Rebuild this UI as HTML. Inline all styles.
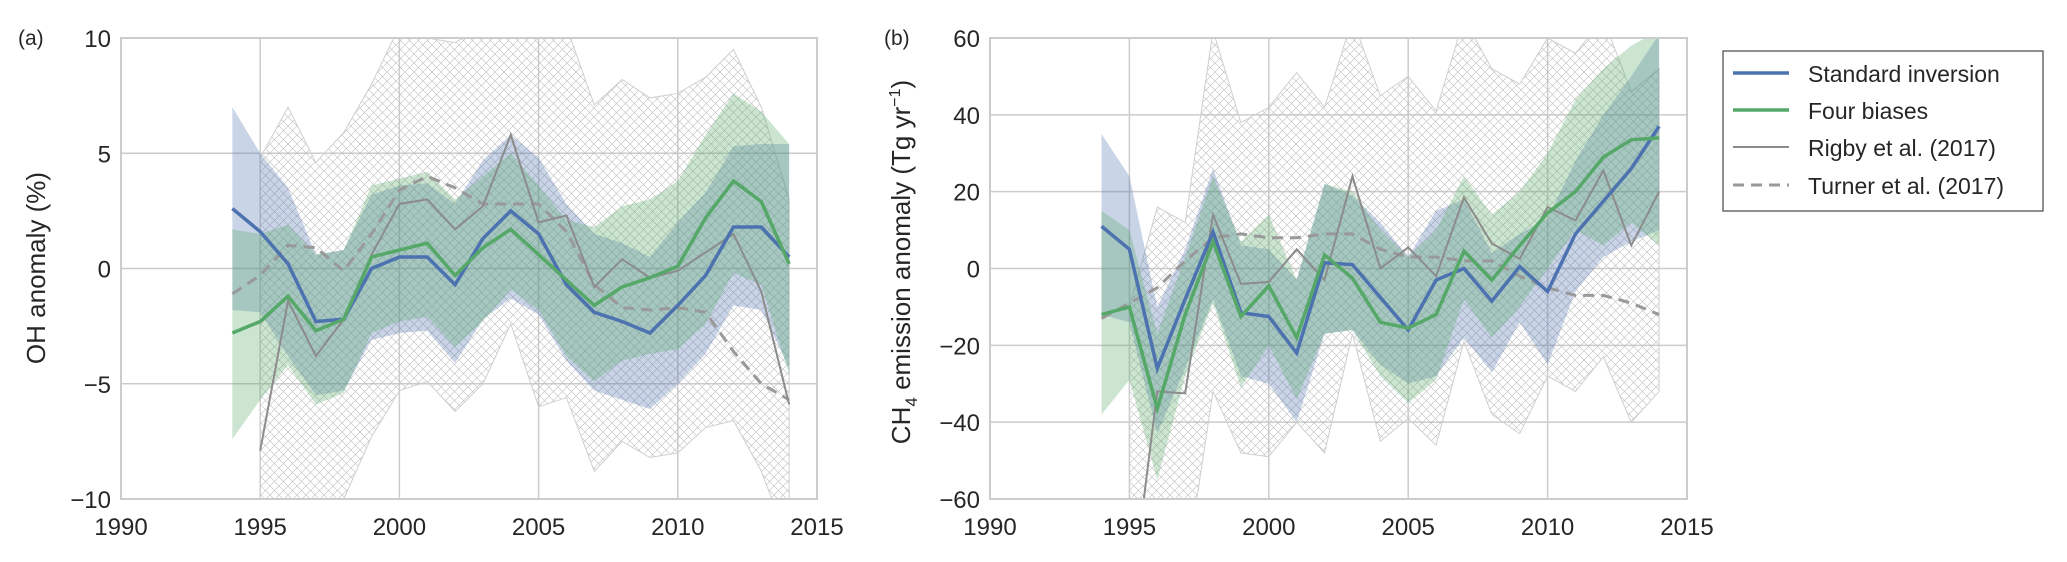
<!DOCTYPE html>
<html><head><meta charset="utf-8"><style>
html,body{margin:0;background:#fff;width:2067px;height:562px;overflow:hidden;position:relative;}
svg{display:block;font-family:"Liberation Sans",sans-serif;}
</style></head><body>
<svg id="fig" style="position:absolute;left:0;top:0" width="2067" height="562" viewBox="0 0 2067 562">
<defs>
<pattern id="hatch" width="9" height="9" patternUnits="userSpaceOnUse">
<path d="M0,0 L9,9 M9,0 L0,9" stroke="#bdbdbd" stroke-width="0.6" fill="none"/>
</pattern>
<clipPath id="clipA"><rect x="121" y="38" width="696" height="461"/></clipPath>
<clipPath id="clipB"><rect x="990" y="38" width="697" height="461"/></clipPath>
</defs>
</svg>
<script>
const years=[1994,1995,1996,1997,1998,1999,2000,2001,2002,2003,2004,2005,2006,2007,2008,2009,2010,2011,2012,2013,2014];
const rigbyYears=[1995,1996,1997,1998,1999,2000,2001,2002,2003,2004,2005,2006,2007,2008,2009,2010,2011,2012,2013,2014];
const xTicks=[1990,1995,2000,2005,2010,2015];
// Panel (a) OH anomaly
const aStd=[2.6,1.6,0.2,-2.3,-2.2,0,0.5,0.5,-0.7,1.3,2.5,1.5,-0.7,-1.9,-2.3,-2.8,-1.6,-0.3,1.8,1.8,0.5];
const aStdHi=[7.0,5.0,3.5,0.6,0.8,3.2,3.6,3.7,2.8,4.7,5.8,4.8,2.8,1.5,1.1,0.5,2.0,3.3,5.3,5.4,5.4];
const aStdLo=[-1.8,-1.9,-3.8,-5.5,-5.3,-3.1,-2.8,-2.7,-4.1,-2.2,-1.3,-2.0,-4.0,-5.3,-5.7,-6.1,-5.0,-3.7,-1.6,-1.8,-4.3];
const aFour=[-2.8,-2.3,-1.2,-2.7,-2.2,0.5,0.8,1.1,-0.3,0.9,1.7,0.6,-0.5,-1.6,-0.8,-0.4,0.1,2.2,3.8,2.9,0.2];
const aFourHi=[1.7,1.5,1.9,0.6,0.8,3.6,3.9,4.2,3.0,4.0,5.0,3.6,2.1,1.8,2.7,3.0,3.8,5.8,7.6,6.8,5.4];
const aFourLo=[-7.4,-5.7,-4.2,-5.9,-5.4,-2.8,-2.3,-2.1,-3.4,-2.3,-0.9,-1.8,-3.8,-4.9,-4.0,-3.7,-3.5,-2.4,-0.2,-0.7,-4.6];
const aRigby=[-7.9,-1.4,-3.8,-2.2,0.6,2.8,3.0,1.7,2.7,5.8,2.0,2.3,-0.8,0.4,-0.4,-0.1,0.7,1.5,-1.0,-5.9];
const aRigbyHi=[4.8,7.0,4.6,5.9,8.0,10.5,10,9.8,10.5,10.5,10.5,10.5,7.1,8.2,7.4,7.6,8.3,9.5,7.0,3.0];
const aRigbyLo=[-12,-12,-12,-10,-7.3,-5.3,-4.9,-6.2,-5.0,-2.4,-6.0,-5.6,-8.8,-7.5,-8.2,-8.0,-6.9,-6.6,-8.8,-12];
const aTurner=[-1.1,-0.3,1.0,0.9,-0.1,1.5,3.4,4.0,3.5,2.8,2.8,2.8,1.6,-0.7,-1.7,-1.8,-1.7,-1.9,-3.6,-5.0,-5.7];
const aYTicks=[-10,-5,0,5,10];
// Panel (b) CH4 emission anomaly
const bStd=[11,5,-26,-8,9.5,-11.5,-12.5,-22,1.5,1,-7.5,-16,-3,0,-8.5,0.5,-6,9,17.5,26,37];
const bStdHi=[35,24,-10,5,26,6,5,-3,22,19,12,3,15,18,4,9,13,28,40,50,61];
const bStdLo=[-12,-14,-43,-26,-8,-28,-30,-40,-17,-16,-25,-30,-28,-18,-27,-14,-25,-6,3,7,10];
const bFour=[-12,-10,-36.5,-12,7,-12.5,-4.5,-18,3.5,-2.5,-14,-15.5,-12,4.5,-3,6,14.5,20,29,33.5,34];
const bFourHi=[15,10,-17,3,24,7,14,-3,22,20,10,3,10,24,14,20,30,44,52,58,62];
const bFourLo=[-38,-29,-55,-28,-9,-31,-20,-34,-17,-16,-28,-35,-29,-8,-18,-10,0,10,6,12,6];
const bRigby=[-90,-32,-32.5,14,-4,-3.5,5,-3,24,0,5.5,-2,18.5,6.5,2.5,16,12.5,25.5,6,20];
const bRigbyHi=[-10,16,12,62,38,42,51,42,65,45,50,41,65,52,48,60,56,65,46,52];
const bRigbyLo=[-100,-80,-80,-32,-48,-49,-40,-48,-17,-45,-39,-46,-19,-38,-43,-28,-32,-23,-40,-32];
const bTurner=[-13,-9,-5,2,8,9,8,8,9,9,5,3,3,2,2,-2,-5,-7,-7,-9,-12];
const bYTicks=[-60,-40,-20,0,20,40,60];

const NS="http://www.w3.org/2000/svg";
const svg=document.getElementById('fig');
function mk(tag,attrs,parent){const e=document.createElementNS(NS,tag);for(const k in attrs)e.setAttribute(k,attrs[k]);(parent||svg).appendChild(e);return e;}
const BLUE="#4c72b0",GREEN="#55a868",GRAY="#8c8c8c";

function panel(P){
  const g=mk('g',{});
  
  
  const sx=v=>P.x0+(v-1990)/25*(P.x1-P.x0);
  const sy=v=>P.y1-(v-P.ymin)/(P.ymax-P.ymin)*(P.y1-P.y0);
  mk('rect',{x:P.x0,y:P.y0,width:P.x1-P.x0,height:P.y1-P.y0,fill:'#fff'},g);
  xTicks.forEach(t=>{
    const l=mk('line',{x1:sx(t),x2:sx(t),y1:P.y0,y2:P.y1,stroke:'#cccccc','stroke-width':1.5},g);
    
    
    const tx=mk('text',{x:sx(t),y:P.y1+36,'text-anchor':'middle','font-size':24,fill:'#262626'},g);
    tx.textContent=t;
    
    
  });
  P.yticks.forEach(t=>{
    const l=mk('line',{x1:P.x0,x2:P.x1,y1:sy(t),y2:sy(t),stroke:'#cccccc','stroke-width':1.5},g);
    
    
    const tx=mk('text',{x:P.x0-10,y:sy(t)+9,'text-anchor':'end','font-size':24,fill:'#262626'},g);
    tx.textContent=(t<0?'\u2212'+(-t):t);
    
    
  });
  const c=mk('g',{'clip-path':'url(#'+P.clip+')'},g);
  const band=(xs,hi,lo)=>{let d='';xs.forEach((y,i)=>{d+=(i?'L':'M')+sx(y)+','+sy(hi[i]);});for(let i=xs.length-1;i>=0;i--)d+='L'+sx(xs[i])+','+sy(lo[i]);return d+'Z';};
  const line=(xs,v)=>xs.map((y,i)=>(i?'L':'M')+sx(y)+','+sy(v[i])).join('');
  let e=mk('path',{d:band(rigbyYears,P.rHi,P.rLo),fill:'url(#hatch)',stroke:'#cfcfcf','stroke-width':1},c);
  
  
  e=mk('path',{d:band(years,P.sHi,P.sLo),fill:BLUE,'fill-opacity':0.3},c);
  
  
  e=mk('path',{d:band(years,P.fHi,P.fLo),fill:GREEN,'fill-opacity':0.3},c);
  
  
  e=mk('path',{d:line(years,P.t),fill:'none',stroke:'#999999','stroke-width':3,'stroke-dasharray':'11,7'},c);
  
  
  e=mk('path',{d:line(rigbyYears,P.r),fill:'none',stroke:GRAY,'stroke-width':2},c);
  
  
  e=mk('path',{d:line(years,P.s),fill:'none',stroke:BLUE,'stroke-width':3.5},c);
  
  
  e=mk('path',{d:line(years,P.f),fill:'none',stroke:GREEN,'stroke-width':3.5},c);
  
  
  e=mk('rect',{x:P.x0,y:P.y0,width:P.x1-P.x0,height:P.y1-P.y0,fill:'none',stroke:'#cccccc','stroke-width':2},g);
  
  
}
panel({name:'panel-a-oh-anomaly',x0:121,x1:817,y0:38,y1:499,ymin:-10,ymax:10,yticks:aYTicks,clip:'clipA',
  s:aStd,sHi:aStdHi,sLo:aStdLo,f:aFour,fHi:aFourHi,fLo:aFourLo,r:aRigby,rHi:aRigbyHi,rLo:aRigbyLo,t:aTurner});
panel({name:'panel-b-ch4-emission',x0:990,x1:1687,y0:38,y1:499,ymin:-60,ymax:60,yticks:bYTicks,clip:'clipB',
  s:bStd,sHi:bStdHi,sLo:bStdLo,f:bFour,fHi:bFourHi,fLo:bFourLo,r:bRigby,rHi:bRigbyHi,rLo:bRigbyLo,t:bTurner});
</script>
<svg style="position:absolute;left:0;top:0" width="2067" height="562">
<text x="18" y="45" font-size="21" fill="#262626">(a)</text>
<text x="884" y="45" font-size="21" fill="#262626">(b)</text>
<text transform="translate(45,268) rotate(-90)" text-anchor="middle" font-size="26" fill="#262626">OH anomaly  (%)</text>
<text transform="translate(910,262) rotate(-90)" text-anchor="middle" font-size="26" fill="#262626">CH<tspan font-size="17" dy="7">4</tspan><tspan dy="-7">  emission anomaly  (Tg yr</tspan><tspan font-size="16" dy="-10">−1</tspan><tspan dy="10">)</tspan></text>
<g>
<rect x="1723" y="51" width="320" height="160" fill="#fff" stroke="#555" stroke-width="1.3"/>
<line x1="1733" x2="1789" y1="73" y2="73" stroke="#4c72b0" stroke-width="3.5"/>
<text x="1808" y="82" font-size="23" fill="#262626">Standard inversion</text>
<line x1="1733" x2="1789" y1="110" y2="110" stroke="#55a868" stroke-width="3.5"/>
<text x="1808" y="119" font-size="23" fill="#262626">Four biases</text>
<line x1="1733" x2="1789" y1="147" y2="147" stroke="#8c8c8c" stroke-width="2"/>
<text x="1808" y="156" font-size="23" fill="#262626">Rigby et al. (2017)</text>
<line x1="1733" x2="1789" y1="185" y2="185" stroke="#999" stroke-width="3" stroke-dasharray="11,7"/>
<text x="1808" y="194" font-size="23" fill="#262626">Turner et al. (2017)</text>
</g>
</svg>
</body></html>
